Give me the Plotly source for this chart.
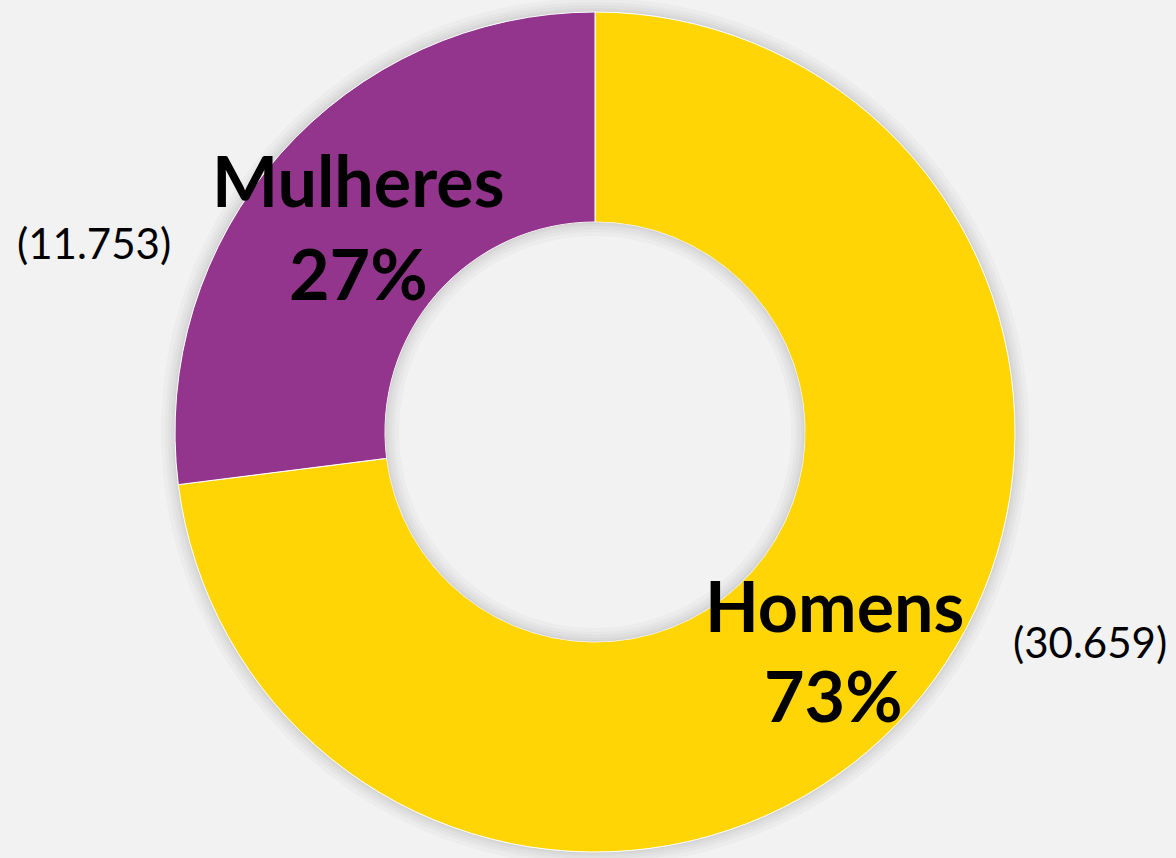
import plotly.graph_objects as go

categories = ["Homens", "Mulheres"]
percents = [73, 27]
counts = ["30.659", "11.753"]
colors = ["#FFD505", "#93358C"]

W, H = 1176, 858
cx, cy, R = 595, 432, 420
HOLE = 0.5

def dom(r):
    return dict(x=[(cx - r) / W, (cx + r) / W], y=[(H - cy - r) / H, (H - cy + r) / H])

def circle(r):
    return dict(x0=(cx - r) / W, x1=(cx + r) / W, y0=(H - cy - r) / H, y1=(H - cy + r) / H)

fig = go.Figure()

fig.add_trace(go.Pie(
    labels=categories,
    values=percents,
    hole=HOLE,
    sort=False,
    direction="clockwise",
    rotation=0,
    textinfo="none",
    hoverinfo="label+percent",
    marker=dict(colors=colors, line=dict(color="#ffffff", width=1)),
    domain=dom(R),
    showlegend=False,
))

shapes = []
# soft outer shadow just outside the ring
for w in (2, 4, 7, 10, 14):
    shapes.append(dict(type="circle", xref="paper", yref="paper", layer="below",
                       line=dict(color="rgba(0,0,0,0.022)", width=w), **circle(R + w / 2)))
# soft inner shadow inside the hole
Ri = R * HOLE
for w in (2, 4, 7, 10, 14):
    shapes.append(dict(type="circle", xref="paper", yref="paper", layer="above",
                       line=dict(color="rgba(0,0,0,0.022)", width=w), **circle(Ri - w / 2)))

def px_x(x):
    return x / W

def px_y(y):
    return (H - y) / H

bold = dict(family="Lato", size=70, color="#000000", weight="bold")
reg = dict(family="Lato", size=42, color="#000000")

ann = [
    (categories[1], 358, 180, bold),
    (f"{percents[1]}%", 358, 273, bold),
    (f"({counts[1]})", 94, 243, reg),
    (categories[0], 834, 605, bold),
    (f"{percents[0]}%", 833, 695, bold),
    (f"({counts[0]})", 1090, 642, reg),
]
for text, x, y, font in ann:
    fig.add_annotation(text=text, x=px_x(x), y=px_y(y), xref="paper", yref="paper",
                       xanchor="center", yanchor="middle", showarrow=False, font=font)

fig.update_layout(
    width=W, height=H,
    margin=dict(l=0, r=0, t=0, b=0),
    paper_bgcolor="#F2F2F2",
    plot_bgcolor="#F2F2F2",
    shapes=shapes,
)
fig.write_html("out.html", config={"displayModeBar": False},
               post_script="document.body.style.margin='0';document.body.style.background='#F2F2F2';")
